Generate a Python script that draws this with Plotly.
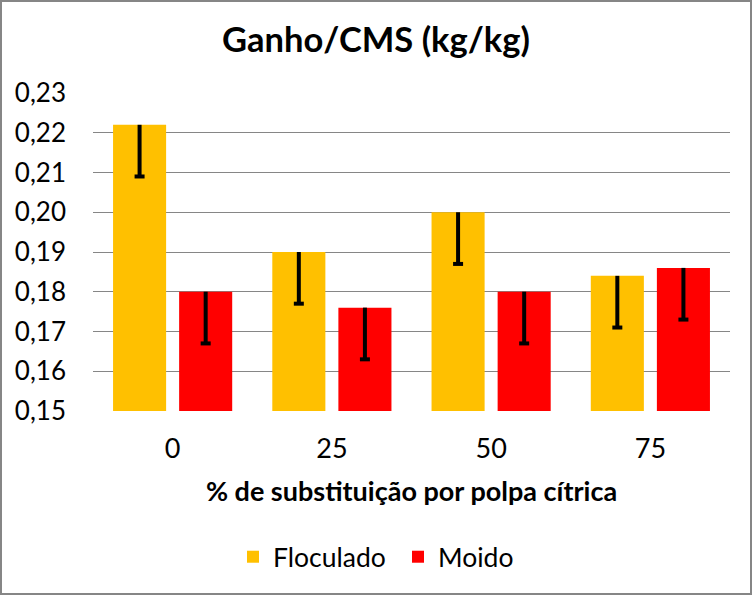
import plotly.graph_objects as go

categories = ["0", "25", "50", "75"]
floculado = [0.222, 0.190, 0.200, 0.184]
moido = [0.180, 0.176, 0.180, 0.186]
err_floculado = [0.013, 0.013, 0.013, 0.013]
err_moido = [0.013, 0.013, 0.013, 0.013]
y_ticks = [0.15, 0.16, 0.17, 0.18, 0.19, 0.20, 0.21, 0.22, 0.23]

FONT = "Lato"
W, H = 752, 595
ML, MR, MT, MB = 93, 22, 93, 184
pw = W - ML - MR
ph = H - MT - MB
unit_per_px = (y_ticks[-1] - y_ticks[0]) / ph
CAP_H = 4 * unit_per_px
CAP_W = 10 / (pw / len(categories))

def err(vals):
    return dict(type="data", symmetric=False, array=[0] * len(vals), arrayminus=vals,
                color="black", thickness=4, width=0)

fig = go.Figure()
fig.add_trace(go.Bar(name="Floculado", x=categories, y=floculado, marker_color="#FFC000",
                     marker_line_width=0, offsetgroup="F", error_y=err(err_floculado)))
fig.add_trace(go.Bar(name="Moido", x=categories, y=moido, marker_color="#FF0000",
                     marker_line_width=0, offsetgroup="M", error_y=err(err_moido)))
# error bar end caps (lower end only, as in the reference)
for vals, errs, grp in [(floculado, err_floculado, "F"), (moido, err_moido, "M")]:
    fig.add_trace(go.Bar(x=categories, y=[CAP_H] * len(vals),
                         base=[v - e - CAP_H / 2 for v, e in zip(vals, errs)],
                         width=CAP_W, offsetgroup=grp, marker_color="black",
                         marker_line_width=0, showlegend=False, hoverinfo="skip"))

fig.add_shape(type="rect", xref="paper", yref="paper",
              x0=-(ML - 1) / pw, x1=1 + (MR - 1) / pw,
              y0=-(MB - 1) / ph, y1=1 + (MT - 1) / ph,
              line=dict(color="#868686", width=2), fillcolor="rgba(0,0,0,0)", layer="below")

fig.update_layout(
    width=W, height=H,
    margin=dict(l=ML, r=MR, t=MT, b=MB),
    paper_bgcolor="white", plot_bgcolor="white",
    separators=",.",
    barmode="group", bargap=0.17, bargroupgap=0.197,
    font=dict(family=FONT, size=27, color="black"),
    title=dict(text="<b>Ganho/CMS (kg/kg)</b>", x=0.5, xanchor="center",
               y=1 - 40 / H, yanchor="middle", font=dict(size=34.5, family=FONT)),
    xaxis=dict(showgrid=False, showline=False, ticks="", ticklabelstandoff=19,
               title=dict(text="<b>% de substituição por polpa cítrica</b>",
                          font=dict(size=27, family=FONT), standoff=19),
               tickfont=dict(size=27)),
    yaxis=dict(range=[y_ticks[0], y_ticks[-1]], tickvals=y_ticks, tickformat=".2f",
               showgrid=True, gridcolor="#868686", gridwidth=1, zeroline=False,
               showline=False, ticks="", ticklabelstandoff=26, tickfont=dict(size=26)),
    legend=dict(orientation="h", x=(233 - ML) / pw, xanchor="left",
                y=-(557 - 411) / ph, yanchor="middle",
                font=dict(size=26.5, family=FONT), itemwidth=30, entrywidth=120,
                traceorder="normal"),
    showlegend=True,
)

fig.write_html("out.html", config={"displayModeBar": False},
               post_script="document.body.style.margin='0';")
